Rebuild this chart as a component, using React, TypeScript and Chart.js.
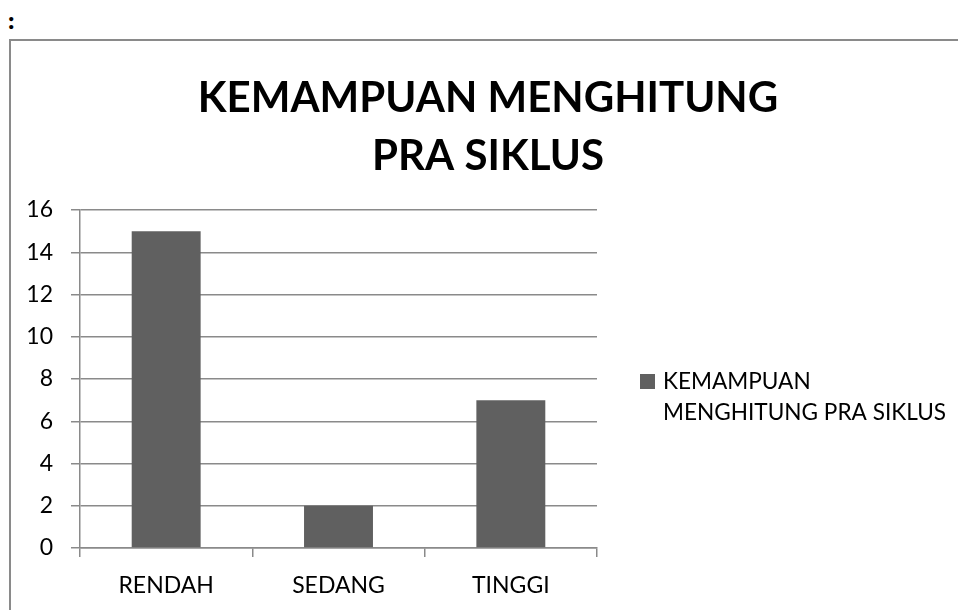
import React, { useEffect, useRef } from "react";
import { Chart, registerables } from "chart.js";

Chart.register(...registerables);

const categories = ["RENDAH", "SEDANG", "TINGGI"];
const values = [15, 2, 7];
const seriesLabel = "KEMAMPUAN MENGHITUNG PRA SIKLUS";
const titleLines = ["KEMAMPUAN MENGHITUNG", "PRA SIKLUS"];
const legendLines = ["KEMAMPUAN", "MENGHITUNG PRA SIKLUS"];
const yMin = 0;
const yMax = 16;
const yStep = 2;

const BAR = "#606060";
const GRID = "#8a8a8a";
const FONT = "Lato, 'Open Sans', sans-serif";

const overlayPlugin = {
  id: "overlay",
  afterDraw(chart: any) {
    const ctx = chart.ctx;
    ctx.save();
    ctx.fillStyle = "#000";
    ctx.textAlign = "center";
    ctx.textBaseline = "middle";
    ctx.font = `bold 42px ${FONT}`;
    const tY = [98, 156];
    titleLines.forEach((t, i) => ctx.fillText(t, 488, tY[i]));

    const ds = chart.data.datasets[0];
    ctx.fillStyle = ds.backgroundColor;
    ctx.fillRect(640, 374, 15, 15);
    ctx.fillStyle = "#000";
    ctx.textAlign = "left";
    ctx.font = `22.6px ${FONT}`;
    const lY = [382, 413];
    legendLines.forEach((t, i) => ctx.fillText(t, 663, lY[i]));
    ctx.restore();
  },
};

export default function App() {
  const ref = useRef<HTMLCanvasElement | null>(null);
  useEffect(() => {
    if (!ref.current) return;
    const chart = new Chart(ref.current, {
      type: "bar",
      data: {
        labels: categories,
        datasets: [
          {
            label: seriesLabel,
            data: values,
            backgroundColor: BAR,
            borderWidth: 0,
            categoryPercentage: 1,
            barPercentage: 0.4,
          },
        ],
      },
      plugins: [overlayPlugin],
      options: {
        responsive: false,
        animation: false,
        devicePixelRatio: 1,
        layout: { padding: { left: 0, right: 361, top: 210, bottom: 0 } },
        plugins: {
          legend: { display: false },
          title: { display: false },
          tooltip: { enabled: false },
        },
        scales: {
          x: {
            afterFit: (s: any) => {
              s.height = 62;
            },
            grid: {
              offset: true,
              drawOnChartArea: false,
              drawTicks: true,
              tickLength: 9,
              color: GRID,
              lineWidth: 1.5,
            },
            border: { color: GRID, width: 1.5 },
            ticks: {
              color: "#000",
              padding: 15,
              font: { family: FONT, size: 23 },
            },
          },
          y: {
            min: yMin,
            max: yMax,
            afterFit: (s: any) => {
              s.width = 80;
            },
            grid: {
              color: GRID,
              lineWidth: 1.5,
              tickLength: 9,
              drawTicks: true,
            },
            border: { color: GRID, width: 1.5 },
            ticks: {
              stepSize: yStep,
              color: "#000",
              padding: 18,
              font: { family: FONT, size: 23 },
            },
          },
        },
      },
    });
    return () => chart.destroy();
  }, []);

  return (
    <div
      style={{
        position: "absolute",
        left: 0,
        top: 0,
        width: 958,
        height: 610,
        overflow: "hidden",
        background: "#fff",
      }}
    >
      <div
        style={{
          position: "absolute",
          left: 7,
          top: 6,
          fontFamily: "'Liberation Serif', serif",
          fontSize: 26,
          fontWeight: "bold",
          lineHeight: "30px",
          color: "#000",
        }}
      >
        :
      </div>
      <div
        style={{
          position: "absolute",
          left: 9,
          top: 39,
          width: 1000,
          height: 1000,
          borderLeft: "2px solid #8a8a8a",
          borderTop: "2px solid #8a8a8a",
        }}
      />
      <canvas
        ref={ref}
        width={958}
        height={610}
        style={{ position: "absolute", left: 0, top: 0, width: 958, height: 610 }}
      />
    </div>
  );
}
